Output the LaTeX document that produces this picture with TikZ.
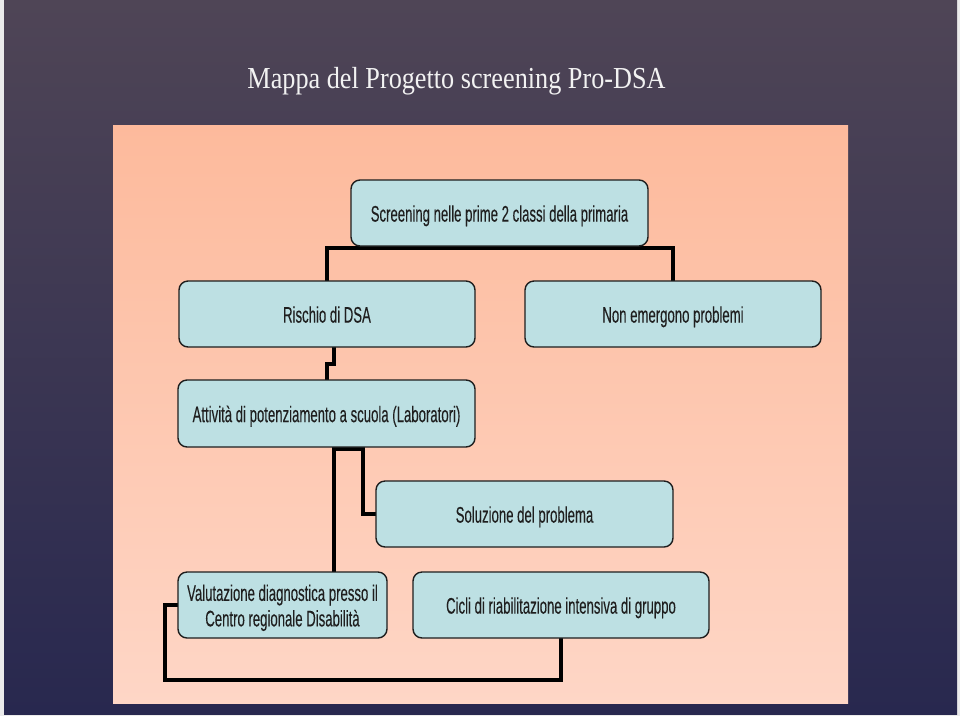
\documentclass[tikz,border=0pt]{standalone}
\usepackage{fontspec}
\usepackage{graphicx}
\setmainfont{Liberation Serif}
\newfontfamily\boxfont[FakeBold=0.3]{Liberation Sans}
\usetikzlibrary{backgrounds,calc}
\definecolor{bgtop}{HTML}{4F4556}
\definecolor{bgbot}{HTML}{28284F}
\definecolor{pantop}{HTML}{FDBA9C}
\definecolor{panbot}{HTML}{FED6C6}
\definecolor{boxfill}{HTML}{BDE0E3}
\definecolor{boxline}{HTML}{1E1E1E}
\definecolor{titlecol}{HTML}{F2F2F2}
\newcommand{\bxt}[1]{\raisebox{-3.5pt}[\height][\depth]{\scalebox{0.585}[1]{\boxfont\fontsize{22.5}{25.5}\selectfont\begin{tabular}{@{}c@{}}#1\end{tabular}}}}
\tikzset{
  boxnode/.style={draw=boxline, line width=1.4pt, fill=boxfill, rounded corners=9pt,
    minimum height=66pt, inner sep=0pt, text=black!88, align=center},
  conn/.style={line width=4pt, draw=black, line join=miter, line cap=rect}
}
\begin{document}
\begin{tikzpicture}[x=1pt,y=-1pt]
\useasboundingbox (0,0) rectangle (960,716);
% nodes
\node[text=titlecol, anchor=base] (title) at (456.5,88)
  {\scalebox{0.86}[1]{\fontsize{30.5}{36}\selectfont Mappa del Progetto screening Pro-DSA}};
\node[boxnode, minimum width=297pt] (scr) at (499.5,213) {\bxt{Screening nelle prime 2 classi della primaria}};
\node[boxnode, minimum width=296pt] (ris) at (327,314) {\bxt{Rischio di DSA}};
\node[boxnode, minimum width=296pt] (non) at (673,314) {\bxt{Non emergono problemi}};
\node[boxnode, minimum width=297pt, minimum height=67pt] (att) at (326.5,413.5) {\bxt{Attivit\`a di potenziamento a scuola (Laboratori)}};
\node[boxnode, minimum width=297pt] (sol) at (524.5,514) {\bxt{Soluzione del problema}};
\node[boxnode, minimum width=209pt] (val) at (282.5,605) {\bxt{Valutazione diagnostica presso il\\Centro regionale Disabilit\`a}};
\node[boxnode, minimum width=296pt] (cic) at (561,605) {\bxt{Cicli di riabilitazione intensiva di gruppo}};
\begin{scope}[on background layer]
  \fill[white!92!black] (0,0) rectangle (960,716);
  \shade[top color=bgtop, bottom color=bgbot] (4,0) rectangle (957,714);
  \shade[top color=pantop, bottom color=panbot] (113,125) rectangle (848,703);
  % connectors
  \coordinate (hb) at (0,248);
  \draw[conn] (ris.north) |- (hb -| scr.south) -| (non.north);
  \draw[conn] ($(ris.south)+(7,0)$) -- ++(0,16) -| (att.north);
  \coordinate (j1) at (334,449);
  \coordinate (j2) at (363,449);
  \draw[conn] (j1) -- (j2) |- (sol.west);
  \draw[conn] (att.south -| j1) -- (val.north -| j1);
  \coordinate (lb) at (165,680);
  \draw[conn] (val.west) -| (lb) -| (cic.south);
\end{scope}
\end{tikzpicture}
\end{document}
